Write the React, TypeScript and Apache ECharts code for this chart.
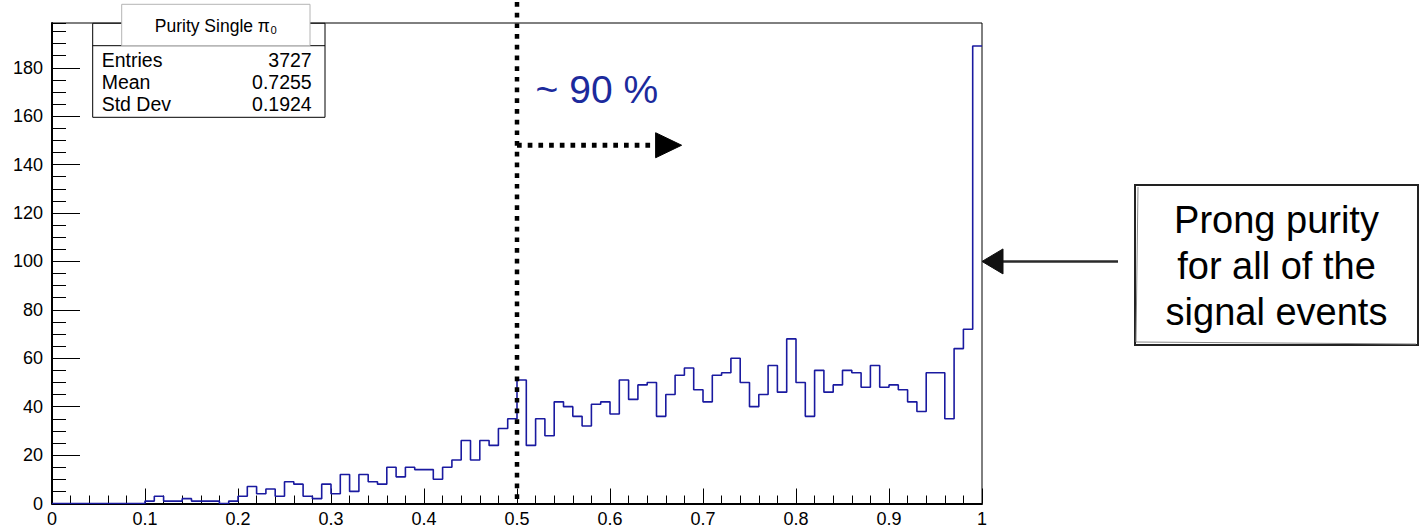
import React, { useEffect, useRef } from "react";
import * as echarts from "echarts";

// ---- data ----
const BIN_WIDTH = 0.01;
const COUNTS = [
  0, 0, 0, 0, 0, 0, 0, 0, 0, 0,
  1, 3, 1, 1, 2, 1, 1, 1, 0, 1,
  3, 7, 4, 6, 3, 9, 8, 3, 2, 8,
  4, 12, 5, 12, 9, 8, 15, 11, 15, 14,
  14, 10, 15, 18, 26, 18, 26, 24, 31, 35,
  51, 24, 35, 28, 42, 40, 36, 32, 41, 42,
  37, 51, 43, 49, 50, 36, 45, 53, 56, 47,
  42, 53, 54, 60, 50, 40, 45, 57, 46, 68,
  50, 36, 55, 46, 49, 55, 54, 48, 57, 48,
  49, 47, 42, 38, 54, 54, 35, 64, 72, 189,
];
const X_TICK_LABELS = ["0", "0.1", "0.2", "0.3", "0.4", "0.5", "0.6", "0.7", "0.8", "0.9", "1"];
const Y_TICK_LABELS = [0, 20, 40, 60, 80, 100, 120, 140, 160, 180];
const X_MIN = 0;
const X_MAX = 1;
const X_INTERVAL = 0.1;
const Y_MIN = 0;
const Y_MAX = 198.5;
const Y_INTERVAL = 20;
const Y_MINOR_INTERVAL = 5;

const STATS_TITLE = "Purity Single π₀";
const STATS_LABELS = ["Entries", "Mean", "Std Dev"];
const STATS_VALUES = ["3727", "0.7255", "0.1924"];

const CUT_X = 0.5;
const CUT_ARROW_Y = 148;
const CUT_ARROW_TIP_X = 0.677;
const CUT_TEXT = "~ 90 %";
const CUT_TEXT_POS = [0.52, 171];

const NOTE_LINES = ["Prong purity", "for all of the", "signal events"];
const NOTE_TARGET = [1, 100];

const HIST_COLOR = "#1a1aa0";
const TEXT_BLUE = "#1c2a9c";
const FONT = "'Liberation Sans', Arial, Helvetica, sans-serif";

export default function App() {
  const ref = useRef<HTMLDivElement>(null);

  useEffect(() => {
    const el = ref.current!;
    const chart = echarts.init(el, null, { renderer: "svg" });

    const points: number[][] = COUNTS.map((c, i) => [i * BIN_WIDTH, c]);
    points.push([X_MAX, COUNTS[COUNTS.length - 1]]);

    chart.setOption({
      animation: false,
      grid: {
        left: 52,
        right: 438,
        top: 23,
        bottom: 24.5,
        show: true,
        borderColor: "#000",
        borderWidth: 1,
        backgroundColor: "transparent",
      },
      xAxis: {
        type: "value",
        min: X_MIN,
        max: X_MAX,
        interval: X_INTERVAL,
        axisLine: { show: true, onZero: false, lineStyle: { color: "#000", width: 2 } },
        axisTick: { show: true, inside: true, length: 15, lineStyle: { color: "#000", width: 1 } },
        minorTick: { show: true, splitNumber: 5, length: 8, lineStyle: { color: "#000", width: 1 } },
        splitLine: { show: false },
        minorSplitLine: { show: false },
        axisLabel: {
          color: "#000",
          fontSize: 18,
          fontFamily: FONT,
          margin: 6,
          formatter: (v: number) => {
            const idx = Math.round(v / X_INTERVAL);
            return X_TICK_LABELS[idx] ?? "";
          },
        },
      },
      yAxis: [
        {
          type: "value",
          min: Y_MIN,
          max: Y_MAX,
          interval: Y_INTERVAL,
          axisLine: { show: true, onZero: false, lineStyle: { color: "#000", width: 2 } },
          axisTick: { show: true, inside: true, length: 28, lineStyle: { color: "#000", width: 1 } },
          splitLine: { show: false },
          axisLabel: {
            color: "#000",
            fontSize: 18,
            fontFamily: FONT,
            margin: 9,
            showMaxLabel: false,
            formatter: (v: number) => {
              const r = Math.round(v);
              return Y_TICK_LABELS.includes(r) && Math.abs(r - v) < 1e-6 ? String(r) : "";
            },
          },
        },
        {
          type: "value",
          min: Y_MIN,
          max: Y_MAX,
          interval: Y_MINOR_INTERVAL,
          position: "left",
          axisLine: { show: false },
          axisTick: { show: true, inside: true, length: 14, lineStyle: { color: "#000", width: 1 } },
          axisLabel: { show: false },
          splitLine: { show: false },
        },
      ],
      series: [
        {
          type: "line",
          step: "end",
          data: points,
          xAxisIndex: 0,
          yAxisIndex: 0,
          symbol: "none",
          showSymbol: false,
          lineStyle: { color: HIST_COLOR, width: 1.6 },
        },
      ],
    });

    const px = (x: number, y: number) =>
      chart.convertToPixel({ gridIndex: 0 }, [x, y]) as number[];

    const [cutX, baseY] = px(CUT_X, Y_MIN);
    const [tipX, arrowY] = px(CUT_ARROW_TIP_X, CUT_ARROW_Y);
    const [txtX, txtY] = px(CUT_TEXT_POS[0], CUT_TEXT_POS[1]);
    const [noteTipX, noteY] = px(NOTE_TARGET[0], NOTE_TARGET[1]);

    // stats box geometry
    const sbL = 92.7, sbR = 325, sbT = 23.3, sbB = 117.3, sbSep = 45.7;
    const rowY = [60, 82, 103.5];

    // note box geometry
    const nbL = 1135, nbR = 1418, nbT = 185, nbB = 345;
    const noteCx = (nbL + nbR) / 2;
    const noteRowY = [220, 266, 312];

    const textStyle = (text: string, x: number, y: number, size: number, align: string, fill = "#000", va = "middle") => ({
      text,
      x,
      y,
      fill,
      fontSize: size,
      fontFamily: FONT,
      align,
      textAlign: align,
      verticalAlign: va,
      textVerticalAlign: va,
    });

    const graphic: any[] = [
      // cut line
      {
        type: "line",
        silent: true,
        z: 50,
        shape: { x1: cutX, y1: 2, x2: cutX, y2: baseY },
        style: { stroke: "#000", lineWidth: 4.5, lineDash: [4.7, 6], lineCap: "butt" },
      },
      {
        type: "line",
        silent: true,
        z: 50,
        shape: { x1: cutX, y1: arrowY, x2: tipX - 25, y2: arrowY },
        style: { stroke: "#000", lineWidth: 5, lineDash: [4.7, 6], lineCap: "butt" },
      },
      {
        type: "polygon",
        silent: true,
        z: 50,
        shape: { points: [[tipX - 26, arrowY - 12.5], [tipX, arrowY], [tipX - 26, arrowY + 12.5]] },
        style: { fill: "#000", stroke: "#000", lineWidth: 1 },
      },
      {
        type: "text",
        silent: true,
        z: 50,
        style: textStyle(CUT_TEXT, txtX, txtY, 39, "left", TEXT_BLUE),
      },
      // stats box
      {
        type: "rect",
        silent: true,
        z: 60,
        shape: { x: sbL, y: sbT, width: sbR - sbL, height: sbB - sbT },
        style: { fill: "#fff", stroke: "#000", lineWidth: 1 },
      },
      {
        type: "line",
        silent: true,
        z: 61,
        shape: { x1: sbL, y1: sbSep, x2: sbR, y2: sbSep },
        style: { stroke: "#000", lineWidth: 1 },
      },
      {
        type: "rect",
        silent: true,
        z: 62,
        shape: { x: 121.7, y: 4.3, width: 188.3, height: sbSep - 4.3 },
        style: { fill: "#fff", stroke: "#b4b4b4", lineWidth: 1 },
      },
      {
        type: "text",
        silent: true,
        z: 63,
        style: textStyle(STATS_TITLE, 216, 26, 17.5, "center"),
      },
      ...STATS_LABELS.map((l, i) => ({
        type: "text",
        silent: true,
        z: 63,
        style: textStyle(l, 101.7, rowY[i], 19.5, "left"),
      })),
      ...STATS_VALUES.map((v, i) => ({
        type: "text",
        silent: true,
        z: 63,
        style: textStyle(v, 311.7, rowY[i], 19.5, "right"),
      })),
      // note arrow
      {
        type: "line",
        silent: true,
        z: 50,
        shape: { x1: noteTipX + 18, y1: noteY, x2: 1118, y2: noteY },
        style: { stroke: "#2a2a2a", lineWidth: 2.5 },
      },
      {
        type: "polygon",
        silent: true,
        z: 50,
        shape: { points: [[noteTipX, noteY], [noteTipX + 21, noteY - 12.5], [noteTipX + 21, noteY + 12.5]] },
        style: { fill: "#111", stroke: "#111", lineWidth: 1 },
      },
      // note box
      {
        type: "rect",
        silent: true,
        z: 50,
        shape: { x: nbL, y: nbT, width: nbR - nbL, height: nbB - nbT },
        style: { fill: "#fff", stroke: "#222", lineWidth: 2 },
      },
      {
        type: "polyline",
        silent: true,
        z: 50,
        shape: { points: [[nbL + 3, nbT + 2], [nbL + 1, nbB - 3], [nbR - 2, nbB - 1]] },
        style: { stroke: "#888", lineWidth: 1 },
      },
      ...NOTE_LINES.map((t, i) => ({
        type: "text",
        silent: true,
        z: 51,
        style: textStyle(t, noteCx, noteRowY[i], 38, "center"),
      })),
    ];

    chart.setOption({ graphic });

    return () => chart.dispose();
  }, []);

  return (
    <div
      ref={ref}
      style={{ position: "fixed", left: 0, top: 0, width: 1420, height: 528, background: "#fff" }}
    />
  );
}
